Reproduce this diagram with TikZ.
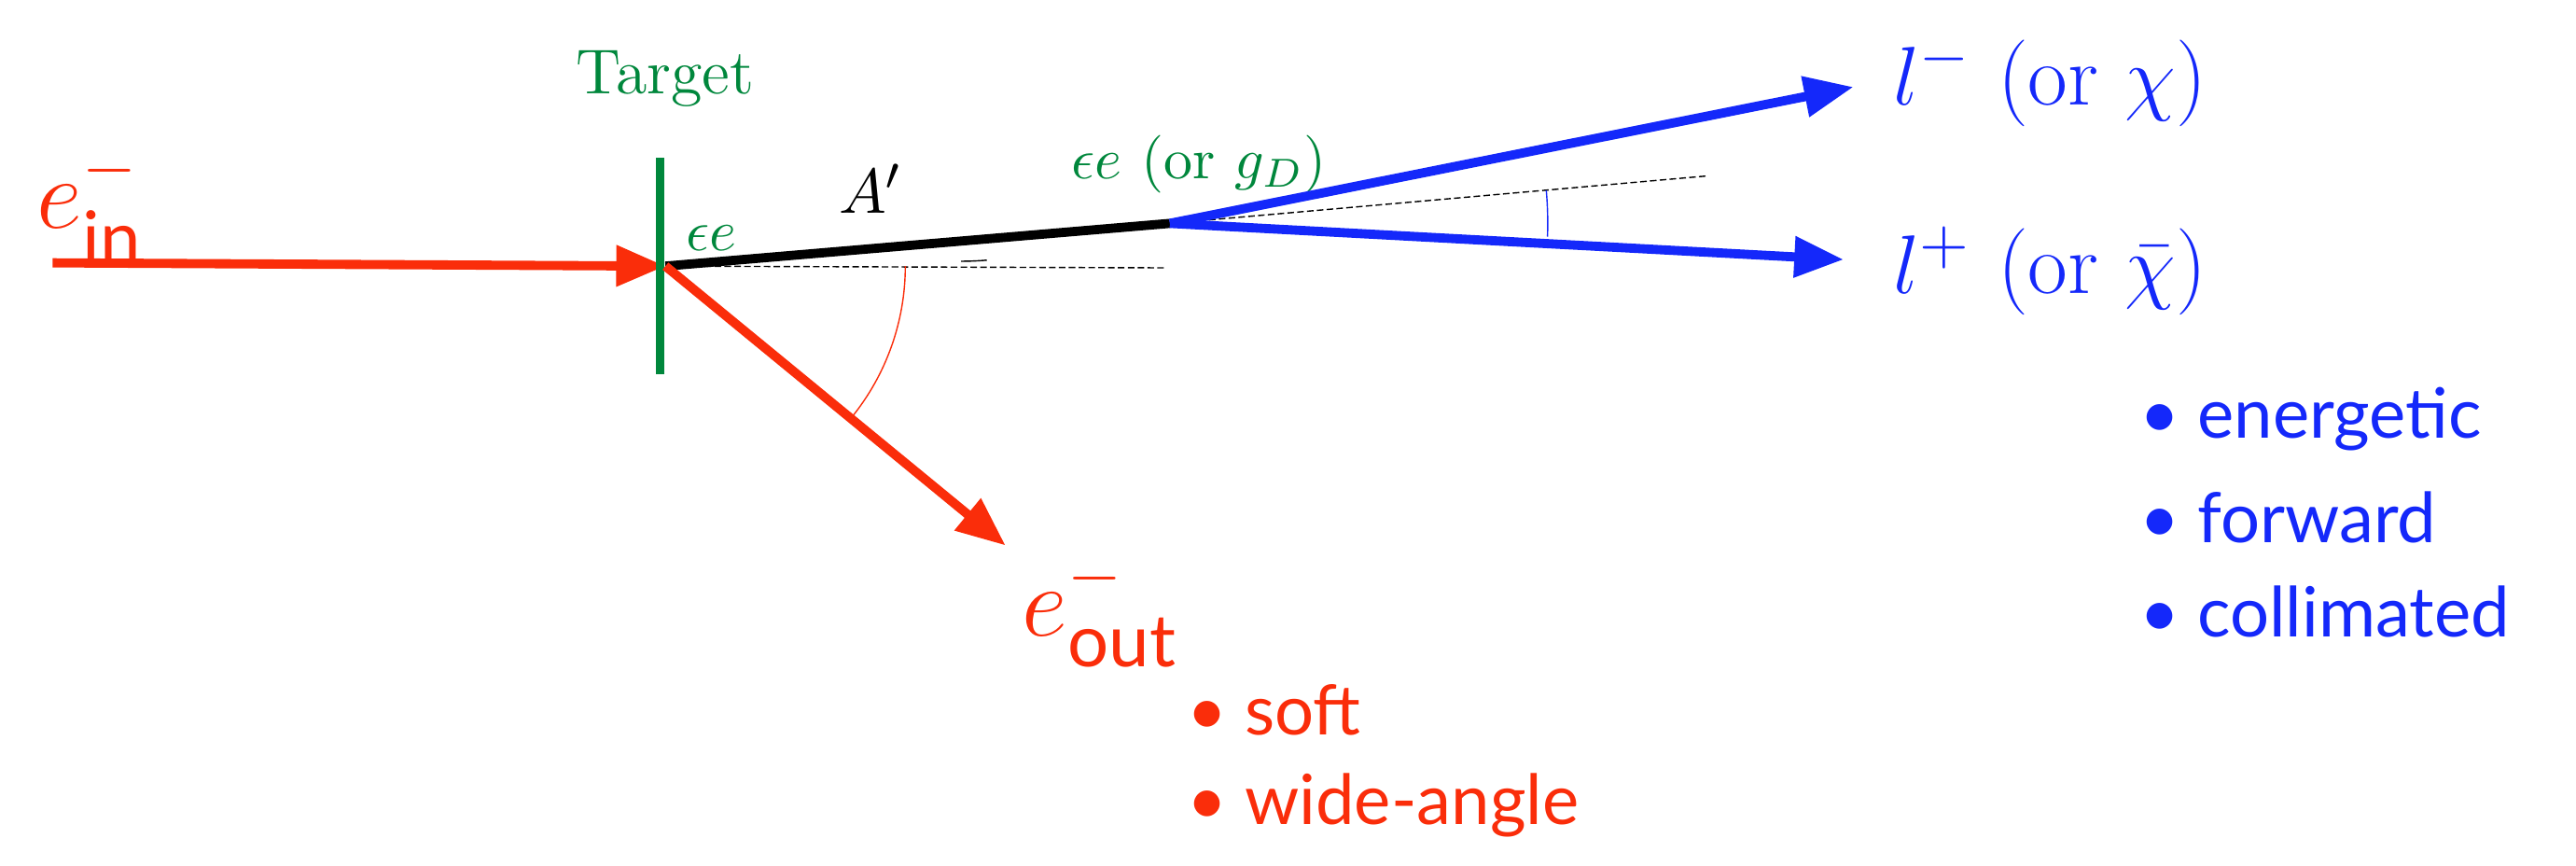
\documentclass[tikz,border=0pt]{standalone}
\usepackage{amsmath}
\usepackage{amssymb}
\usepackage{fontspec}
\newfontfamily\gill{Lato}
\usetikzlibrary{arrows.meta}
\definecolor{myred}{RGB}{250,45,10}
\definecolor{myblue}{RGB}{20,40,250}
\definecolor{mygreen}{RGB}{0,135,60}
\tikzset{
  beam/.style={line width=2.8pt,-{Triangle[length=15pt,width=12pt]}},
  guide/.style={thin,dash pattern=on 2pt off 1pt},
  bul/.style={anchor=west,font=\gill\fontsize{12}{14}\selectfont}
}
\begin{document}
\begin{tikzpicture}[scale=1.761,every node/.append style={scale=1.761}]
	\useasboundingbox (0,0) rectangle (15.68,5.27);
	% incoming electron and target
	\coordinate (start) at (0.32,3.67);
	\coordinate (vtx) at (4.05,3.65);
	\coordinate (decay) at (7.12,3.91);
	\coordinate (lm) at (11.28,4.74);
	\coordinate (lp) at (11.22,3.69);
	\coordinate (eo) at (6.12,1.95);
	\draw[beam,myred] (start) -- (vtx);
	\draw[mygreen,line width=2.5pt] (4.02,4.31) -- (4.02,2.99);
	\node (tgt) [mygreen,font=\fontsize{11}{13}\selectfont] at (4.05,4.79) {Target};
	\node (ein) [myred,font=\fontsize{18}{22}\selectfont] at (0.55,4.02) {$e^-_{\text{\gill in}}$};
	
	% dark photon
	\draw[guide] (vtx) -- (7.1,3.64);
	\draw[line width=2.8pt] (vtx) -- (decay);
	\draw[thin] (5.85,3.68) arc (-90:-85:1.8);
	\node (ee1) [mygreen,font=\fontsize{10}{12}\selectfont] at (4.33,3.82) {$\epsilon e$};
	\node (ap) [font=\fontsize{11}{13}\selectfont] at (5.3,4.12) {$A'$};
	\node (ee2) [mygreen,font=\fontsize{10}{12}\selectfont,anchor=west] at (6.4,4.27) {$\epsilon e$ (or $g_D$)};
	
	% outgoing electron
	\draw[beam,myred] (vtx) -- (eo);
	\draw[myred,thin] (vtx) ++(0:1.46) arc (0:-39:1.46);
	\node (eout) [myred,font=\fontsize{18}{22}\selectfont,anchor=west] at (6.1,1.55) {$e^-_{\text{\gill out}}$};
	\node (s1) [bul,myred] at (7.1,0.95) {\textbullet\ soft};
	\node (s2) [bul,myred] at (7.1,0.37) {\textbullet\ wide-angle};
	
	% lepton pair
	\draw[guide] (decay) -- (10.4,4.2);
	\draw[beam,myblue] (decay) -- (lm);
	\draw[beam,myblue] (decay) -- (lp);
	\draw[myblue,thin] (decay) ++(5:2.3) arc (5:-2:2.3);
	\node (lml) [myblue,font=\fontsize{15}{18}\selectfont,anchor=west] at (11.4,4.77) {$l^-$ (or $\chi$)};
	\node (lpl) [myblue,font=\fontsize{15}{18}\selectfont,anchor=west] at (11.4,3.62) {$l^+$ (or $\bar\chi$)};
	\node (b1) [bul,myblue] at (12.9,2.72) {\textbullet\ energetic};
	\node (b2) [bul,myblue] at (12.9,2.12) {\textbullet\ forward};
	\node (b3) [bul,myblue] at (12.9,1.55) {\textbullet\ collimated};
\end{tikzpicture}
\end{document}
